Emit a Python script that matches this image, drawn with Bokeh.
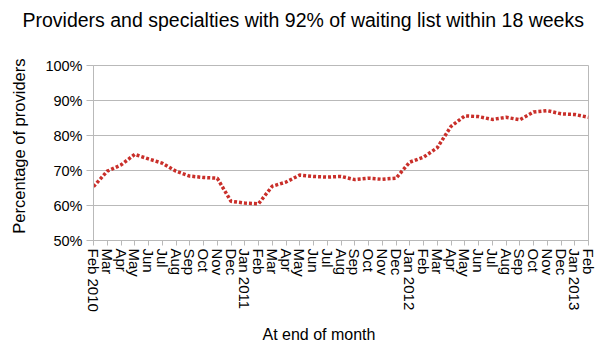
from bokeh.plotting import figure
from bokeh.models import Title, FixedTicker, PrintfTickFormatter, Range1d
from bokeh.embed import file_html
from bokeh.resources import INLINE
import math

months = ["Feb 2010", "Mar", "Apr", "May", "Jun", "Jul", "Aug", "Sep", "Oct", "Nov", "Dec",
          "Jan 2011", "Feb", "Mar", "Apr", "May", "Jun", "Jul", "Aug", "Sep", "Oct", "Nov", "Dec",
          "Jan 2012", "Feb", "Mar", "Apr", "May", "Jun", "Jul", "Aug", "Sep", "Oct", "Nov", "Dec",
          "Jan 2013", "Feb"]
pct_providers = [65.4, 69.8, 71.6, 74.6, 73.3, 72.1, 69.8, 68.4, 68.0, 67.8, 61.2,
                 60.7, 60.5, 65.5, 66.7, 68.7, 68.3, 68.1, 68.3, 67.4, 67.8, 67.5, 67.8,
                 72.4, 73.8, 76.5, 82.6, 85.6, 85.4, 84.6, 85.2, 84.5, 86.7, 87.1, 86.2,
                 86.0, 85.2]
y_ticks = [50, 60, 70, 80, 90, 100]

FONT = "Liberation Sans"
GRID = "#b9b9b9"

xs = list(range(len(months)))

p = figure(width=604, height=354, output_backend="svg", toolbar_location=None,
           x_range=Range1d(0, len(months) - 1), y_range=Range1d(50, 100),
           min_border_left=93, min_border_right=16, min_border_top=65, min_border_bottom=114)

p.title.text = "Providers and specialties with 92% of waiting list within 18 weeks"
p.title.text_font = FONT
p.title.text_font_size = "19.5px"
p.title.text_font_style = "normal"
p.title.align = "left"
p.title.offset = -71
p.title.text_color = "black"
try:
    p.title.padding = dict(left=0, right=0, top=0, bottom=30)
except Exception:
    pass

p.line(xs, pct_providers, line_color="#c92f2a", line_width=3.5, line_dash="3 2")

p.xaxis.ticker = FixedTicker(ticks=xs)
p.xaxis.major_label_overrides = {i: m for i, m in enumerate(months)}
p.xaxis.major_label_orientation = -math.pi / 2
p.xaxis.major_tick_out = 5
p.xaxis.major_tick_in = 0
p.xaxis.minor_tick_line_color = None
p.xaxis.major_label_standoff = 3

p.yaxis.ticker = FixedTicker(ticks=y_ticks)
p.yaxis.formatter = PrintfTickFormatter(format="%d%%")
p.yaxis.major_tick_out = 7
p.yaxis.major_tick_in = 0
p.yaxis.minor_tick_line_color = None
p.yaxis.major_label_standoff = 4
p.yaxis.axis_label = "\u00a0\u00a0\u00a0Percentage of providers"
p.yaxis.axis_label_text_font = FONT
p.yaxis.axis_label_text_font_size = "16.5px"
p.yaxis.axis_label_text_font_style = "normal"
p.yaxis.axis_label_text_color = "black"
p.yaxis.axis_label_standoff = 14

for ax in (p.xaxis, p.yaxis):
    ax.axis_line_color = GRID
    ax.major_tick_line_color = GRID
    ax.major_label_text_font = FONT
    ax.major_label_text_font_size = "14.5px"
    ax.major_label_text_color = "black"
p.xaxis.major_label_text_font_size = "15px"

p.xgrid.grid_line_color = None
p.ygrid.grid_line_color = GRID
p.ygrid.ticker = FixedTicker(ticks=y_ticks)
p.outline_line_color = GRID

xlab = Title(text="At end of month", align="left", offset=169, text_font=FONT,
             text_font_size="16px", text_font_style="normal", text_color="black")
try:
    xlab.padding = dict(left=0, right=0, top=4, bottom=0)
except Exception:
    pass
p.add_layout(xlab, "below")

open("out.html", "w").write(file_html(p, INLINE))
